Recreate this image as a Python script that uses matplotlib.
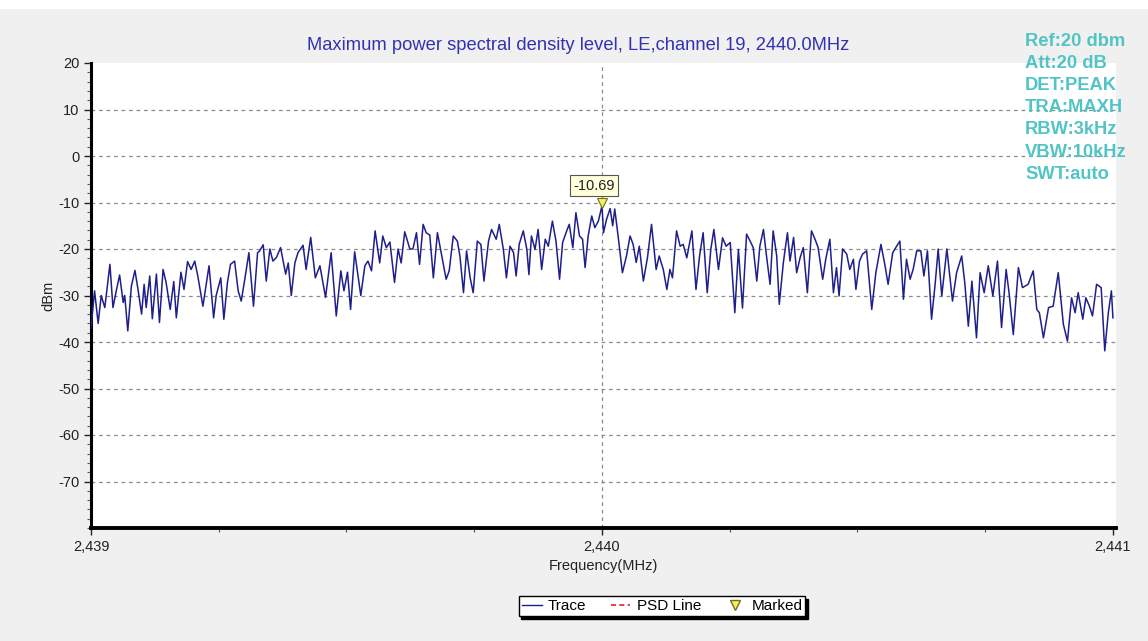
# spectrum plot - max power spectral density, LE channel 19

import matplotlib
matplotlib.use('Agg')
import matplotlib.pyplot as plt
from matplotlib.ticker import MultipleLocator, FuncFormatter
from matplotlib.lines import Line2D
from matplotlib.patches import Rectangle

START_MHZ = 2439.0
MARKER_MHZ = 2440.0
MARKER_DBM = -10.69

# trace: offset from 2439 MHz in kHz, level in dBm
trace_offset_khz = [
    0, 7, 14, 20, 27, 37, 43, 50, 56, 63, 66, 72, 79, 86, 92, 99, 104, 108, 115, 120,
    128, 134, 141, 147, 155, 162, 167, 176, 182, 189, 196, 203, 209, 219, 231, 240, 245, 254, 260, 267,
    273, 281, 288, 294, 301, 309, 318, 326, 330, 337, 343, 350, 356, 363, 371, 381, 386, 392, 399, 405,
    415, 421, 430, 439, 448, 459, 470, 480, 489, 495, 502, 508, 516, 528, 536, 542, 549, 556, 565, 571,
    578, 585, 594, 601, 607, 614, 624, 630, 637, 643, 650, 656, 663,
    670, 678, 686, 695, 701, 709, 717, 722, 729, 735, 742, 748, 756, 763, 769, 778, 784, 793, 799, 807,
    813, 820, 827, 832, 838, 846, 853, 857, 862, 869, 875, 882, 889, 895, 903, 910, 917, 923, 931, 936,
    943, 949, 956, 962, 967, 973, 980, 986, 993, 1000, 1003, 1009, 1016, 1021, 1025, 1032, 1040, 1048, 1055, 1061,
    1067, 1073, 1081, 1089, 1097, 1106, 1112, 1120, 1127, 1133, 1138, 1146, 1153, 1159, 1166, 1176, 1184, 1191, 1198, 1206,
    1213, 1219, 1228, 1236, 1243, 1251, 1260, 1267, 1275, 1283, 1290, 1296, 1303, 1309, 1316, 1322, 1329, 1335,
    1342, 1347, 1355, 1363, 1368, 1375, 1381, 1388, 1394, 1402, 1410, 1417, 1423, 1432, 1438, 1446, 1453, 1459, 1464, 1471,
    1479, 1485, 1492, 1497, 1504, 1510, 1518, 1528, 1536, 1546, 1554, 1560, 1569, 1575, 1583, 1590, 1596, 1603, 1609, 1616,
    1624, 1630, 1637, 1645, 1652, 1658, 1665, 1675, 1686, 1694, 1704, 1710, 1717, 1724, 1733, 1740, 1748, 1756, 1765, 1774,
    1782, 1791, 1797, 1805, 1815, 1823, 1834, 1844, 1851, 1856, 1864, 1874, 1883, 1893, 1903, 1911, 1919, 1926, 1932, 1941,
    1947, 1954, 1960, 1968, 1977, 1984, 1991, 1997, 2000,
]
trace_dbm = [
    -37, -29, -36, -30, -32.6, -23.3, -32.6, -28.7, -25.6, -31.5, -30, -37.6, -28, -24.6, -28.7, -34, -27.6, -32.6, -25.8, -35,
    -25.4, -35.8, -24.4, -27.2, -33, -27, -34.8, -25, -28.7, -22.7, -24.4, -22.6, -25.8, -32.3, -23.6, -34.8, -30, -26.2, -35.1, -27.2,
    -23.3, -22.6, -29, -31.2, -26.5, -20.8, -32.3, -20.8, -20.4, -19.1, -26.9, -20, -22.6, -21.8, -19.7, -25.4, -23, -30, -23, -20.8,
    -19.2, -24.4, -17.5, -26.2, -23.6, -30.4, -20.8, -34.4, -24.7, -29, -25, -33, -20.6, -30, -23.6, -22.6, -24.7, -16.1, -23, -17.2,
    -19.7, -18.5, -27.2, -20, -23, -16.3, -20, -20, -16.5, -23.3, -14.7, -16.5, -17,
    -26.2, -16.5, -21.2, -26.5, -24.7, -17.2, -18.3, -21.5, -29.4, -20.4, -26.2, -29.4, -18.3, -19, -26.9, -18.3, -15.8, -17.9, -14.7, -20.1,
    -26.2, -19.4, -20.8, -25.8, -19, -16.1, -20.1, -25.5, -17.2, -20.1, -15.8, -24.4, -17.9, -19.4, -14, -18.3, -26.5, -18.6, -16.1, -14.7,
    -19.7, -12.2, -17.2, -17.9, -24, -17.2, -12.9, -15.4, -14, -10.69, -16.5, -13.6, -11.3, -15, -11.4, -17.6, -25.1, -21.5, -17.2, -19,
    -22.9, -19.4, -26.9, -21.9, -14.7, -24.4, -21.5, -24.4, -28.7, -24.4, -26.2, -16.1, -19.4, -19, -21.9, -16.1, -28.7, -21.5, -16.5, -29.4,
    -20.1, -15.8, -24.4, -17.6, -19.4, -18.6, -33.7, -20.1, -32.7, -16.8, -18.3, -19.7, -26.9, -19.4, -15.8, -21.5, -27.6, -16.1,
    -21.5, -31.9, -22.9, -16.5, -22.6, -17.5, -25.1, -21.8, -19.7, -29.4, -16.1, -17.9, -19.7, -26.5, -22.2, -17.9, -29.4, -24, -30.1, -20,
    -21.1, -24.4, -22.2, -28.7, -22.6, -21.1, -20.4, -33, -25.1, -19, -23.6, -27.6, -20.8, -19.7, -18.3, -30.8, -22.2, -26.5, -24.4, -20.4,
    -20.4, -25.8, -20.4, -35.1, -27.6, -20, -30.1, -20, -31.2, -25.1, -21.5, -27.2, -36.6, -26.9, -39.1, -25.1, -29.4, -23.6, -30.1, -22.6,
    -36.9, -24.4, -29.7, -38.4, -24, -28.3, -27.6, -24.7, -33, -33.7, -39.1, -32.6, -32.3, -25.1, -36.2, -39.8, -30.5, -33.7, -29.4, -35.1,
    -30.5, -32.3, -34.4, -27.6, -28.3, -41.9, -33.7, -29, -34.8,
]

x_ticks = [2439, 2440, 2441]
y_ticks = [20, 10, 0, -10, -20, -30, -40, -50, -60, -70]

info_lines = ['Ref:20 dbm', 'Att:20 dB', 'DET:PEAK', 'TRA:MAXH', 'RBW:3kHz', 'VBW:10kHz', 'SWT:auto']
title_text = 'Maximum power spectral density level, LE,channel 19, 2440.0MHz'

W, H = 1148, 641
plt.rcParams['font.family'] = ['Liberation Sans', 'DejaVu Sans']
plt.rcParams['axes.unicode_minus'] = False  # analyzer uses plain hyphen

freq = [START_MHZ + k / 1000.0 for k in trace_offset_khz]

fig = plt.figure(figsize=(W / 100, H / 100), dpi=100, facecolor='#f0f0f0')
# thin white strip along the top edge of the screenshot
fig.add_artist(Rectangle((0, 1 - 8 / H), 1, 8 / H, transform=fig.transFigure, color='white', zorder=0))

ax = fig.add_axes([91 / W, 1 - 528 / H, (1116 - 91) / W, (528 - 63) / H])
ax.set_facecolor('white')

trace_color = '#1f1f8c'
ax.plot(freq, trace_dbm, color=trace_color, lw=1.1, zorder=3)

# marker at the peak
ax.plot([MARKER_MHZ], [MARKER_DBM + 0.6], marker='v', ms=7, mfc='#f5f060', mec='#707020', mew=0.8,
        ls='none', zorder=5)
ax.annotate(f'{MARKER_DBM:.2f}', xy=(MARKER_MHZ, MARKER_DBM), xytext=(-8, 20), textcoords='offset pixels',
            ha='center', va='center', fontsize=10.5, color='#222222',
            bbox=dict(boxstyle='square,pad=0.25', fc='#ffffdc', ec='#555555', lw=0.8), zorder=6)

ax.set_xlim(2439, 2441.006)
ax.set_ylim(-80, 20)
ax.set_xticks(x_ticks)
ax.set_yticks(y_ticks)
ax.xaxis.set_minor_locator(MultipleLocator(0.25))
ax.yaxis.set_minor_locator(MultipleLocator(2))
ax.xaxis.set_major_formatter(FuncFormatter(lambda v, p: f'{v:,.0f}'))
ax.tick_params(axis='both', which='major', direction='out', length=5, width=1, labelsize=10.5, colors='#222222')
ax.tick_params(axis='both', which='minor', direction='out', length=3, width=0.8, colors='#555555')

# grid: dashed horizontals + one vertical at centre
for v in y_ticks[1:]:
    ax.axhline(v, color='#8c8c8c', lw=0.9, ls=(0, (3, 3)), zorder=1)
ax.axvline(MARKER_MHZ, color='#8c8c8c', lw=0.9, ls=(0, (3, 3)), zorder=1)

for s in ['top', 'right']:
    ax.spines[s].set_visible(False)
ax.spines['left'].set_linewidth(2.2)
ax.spines['bottom'].set_linewidth(2.8)

ax.set_xlabel('Frequency(MHz)', fontsize=10.5, color='#222222', labelpad=4)
ax.set_ylabel('dBm', fontsize=10.5, color='#222222', labelpad=2)

fig.text(578 / W, 1 - 45 / H, title_text, ha='center', va='center', fontsize=13.2, color='#3232b4')

for i, s in enumerate(info_lines):
    fig.text(1025 / W, 1 - (41 + 22.2 * i) / H, s, ha='left', va='center', fontsize=13.2,
             fontweight='bold', color='#52c4c4')

# legend at the bottom
handles = [
    Line2D([], [], color=trace_color, lw=1),
    Line2D([], [], color='#e02020', lw=1.2, ls=(0, (3, 2))),
    Line2D([], [], marker='v', ms=7, mfc='#f5f060', mec='#707020', ls='none'),
]
fig.legend(handles, ['Trace', 'PSD Line', 'Marked'], loc='center', bbox_to_anchor=(662 / W, 1 - 606 / H),
           ncol=3, fontsize=11, frameon=True, fancybox=False, edgecolor='black',
           shadow={'color': 'black', 'alpha': 1}, handlelength=1.3, handletextpad=0.4,
           columnspacing=1.6, borderpad=0.2, framealpha=1)

plt.savefig('out.png', dpi=100, facecolor=fig.get_facecolor())
